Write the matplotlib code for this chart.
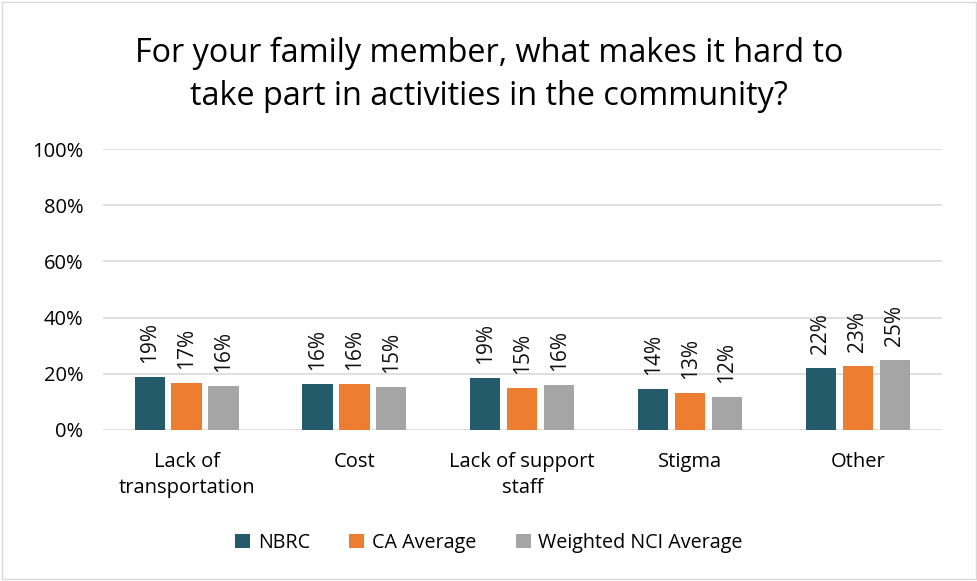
import numpy as np
import matplotlib.pyplot as plt
from matplotlib.patches import Rectangle

categories = ["Lack of\ntransportation", "Cost", "Lack of support\nstaff", "Stigma", "Other"]
series = ["NBRC", "CA Average", "Weighted NCI Average"]
nbrc = [18.9, 16.4, 18.6, 14.5, 22.1]
ca_avg = [16.7, 16.4, 15.0, 13.2, 22.8]
nci_avg = [15.8, 15.3, 16.0, 11.7, 25.0]
labels = [[19, 16, 19, 14, 22], [17, 16, 15, 13, 23], [16, 15, 16, 12, 25]]
colors = ["#235B6A", "#ED7D31", "#A5A5A5"]

plt.rcParams['font.family'] = ['Open Sans', 'DejaVu Sans']

fig = plt.figure(figsize=(9.78, 5.81), dpi=100)
ax = fig.add_axes([0.105, 0.26, 0.858, 0.4835])

x = np.arange(len(categories))
width = 0.18
step = 0.22
for i, (vals, col) in enumerate(zip([nbrc, ca_avg, nci_avg], colors)):
    pos = x + (i - 1) * step
    ax.bar(pos, vals, width, color=col, label=series[i], zorder=3)
    for p, v, lab in zip(pos, vals, labels[i]):
        ax.text(p, v + 5, f"{lab}%", rotation=90, ha='center', va='bottom',
                fontsize=15, color='#111111')

ax.set_xlim(-0.5, len(categories) - 0.5)
ax.set_ylim(0, 100)
ax.set_yticks(range(0, 101, 20))
ax.set_yticklabels([f"{t}%" for t in range(0, 101, 20)], fontsize=14.5)
ax.set_xticks(x)
ax.set_xticklabels(categories, fontsize=14.5, linespacing=1.4)
ax.tick_params(axis='x', length=0, pad=16)
ax.tick_params(axis='y', length=0, pad=14)
ax.grid(axis='y', color='#D9D9D9', linewidth=1.2, zorder=0)
for s in ax.spines.values():
    s.set_visible(False)

fig.text(0.5, 0.871, "For your family member, what makes it hard to\ntake part in activities in the community?",
         ha='center', va='center', fontsize=23.3, linespacing=1.4)

fig.legend(loc='center', bbox_to_anchor=(0.5, 0.066), ncol=3, frameon=False,
           fontsize=14.2, handlelength=0.75, handleheight=0.75, columnspacing=2.0,
           handletextpad=0.4)

fig.patches.append(Rectangle((0.002, 0.003), 0.996, 0.994, transform=fig.transFigure,
                             fill=False, edgecolor='#D9D9D9', linewidth=1))

fig.savefig("out.png", dpi=100)
